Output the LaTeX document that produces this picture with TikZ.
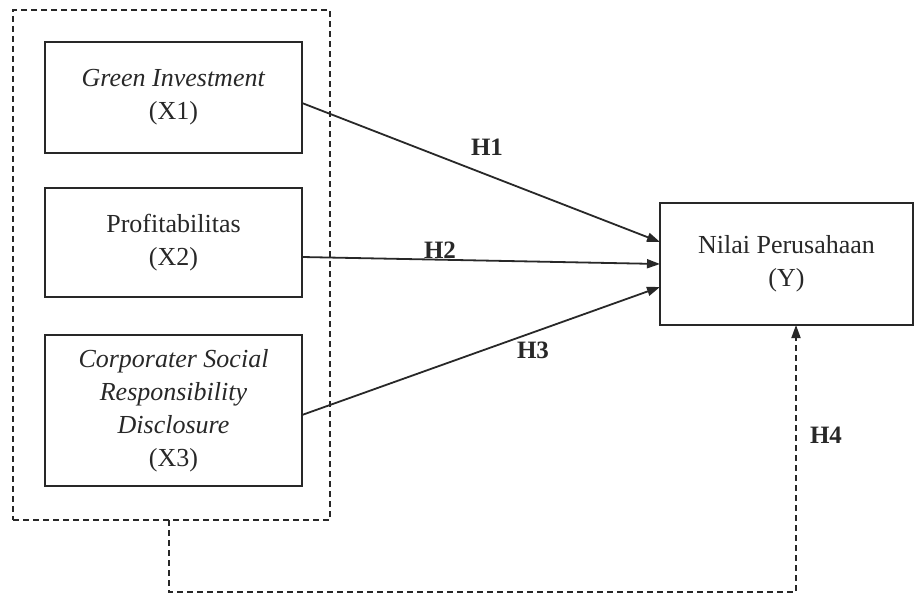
\documentclass[tikz,border=0pt]{standalone}
\usepackage{fontspec}
\setmainfont{Liberation Serif}
\usetikzlibrary{arrows.meta}
\definecolor{ink}{RGB}{40,40,40}
\begin{document}
\begin{tikzpicture}[x=1pt,y=-1pt,
  varbox/.style={draw=ink, line width=2.2pt, rectangle, align=center, text=ink,
    font=\fontsize{26}{33}\selectfont, inner sep=0pt, outer sep=0pt},
  grpbox/.style={draw=ink, line width=1.8pt, dash pattern=on 6pt off 4pt, rectangle, inner sep=0pt, outer sep=0pt},
  hyp/.style={-{Triangle[length=13pt,width=9pt]}, draw=ink, line width=1.8pt},
  hlabel/.style={font=\fontsize{25}{30}\selectfont\bfseries, text=ink, inner sep=0pt}
]
\useasboundingbox (0,0) rectangle (916,596);
\fill[white] (0,0) rectangle (916,596);

\node[grpbox, minimum width=317pt, minimum height=510pt] (grp) at (171.5,265) {};

\node[varbox, minimum width=257pt, minimum height=111pt] (x1) at (173.5,97.5) {\textit{Green Investment}\\(X1)};
\node[varbox, minimum width=257pt, minimum height=109pt] (x2) at (173.5,242.5) {Profitabilitas\\(X2)};
\node[varbox, minimum width=257pt, minimum height=151pt] (x3) at (173.5,410.5) {\textit{Corporater Social}\\\textit{Responsibility}\\\textit{Disclosure}\\(X3)};

\node[varbox, minimum width=253pt, minimum height=122pt] (y) at (786.5,264) {Nilai Perusahaan\\(Y)};

\draw[hyp] ([yshift=-5.5pt]x1.east) -- ([yshift=22pt]y.west);
\draw[hyp] ([yshift=-14.5pt]x2.east) -- (y.west);
\draw[hyp] ([yshift=-4.5pt]x3.east) -- ([yshift=-23pt]y.west);

\coordinate (corner) at (796,592);
\draw[hyp, dash pattern=on 6pt off 4pt] ([xshift=-2.5pt]grp.south) |- (corner) -- ([xshift=9.5pt]y.south);

\node[hlabel] (h1) at (487,147) {H1};
\node[hlabel] (h2) at (440,250) {H2};
\node[hlabel] (h3) at (533,350) {H3};
\node[hlabel] (h4) at (826,435) {H4};
\end{tikzpicture}
\end{document}
